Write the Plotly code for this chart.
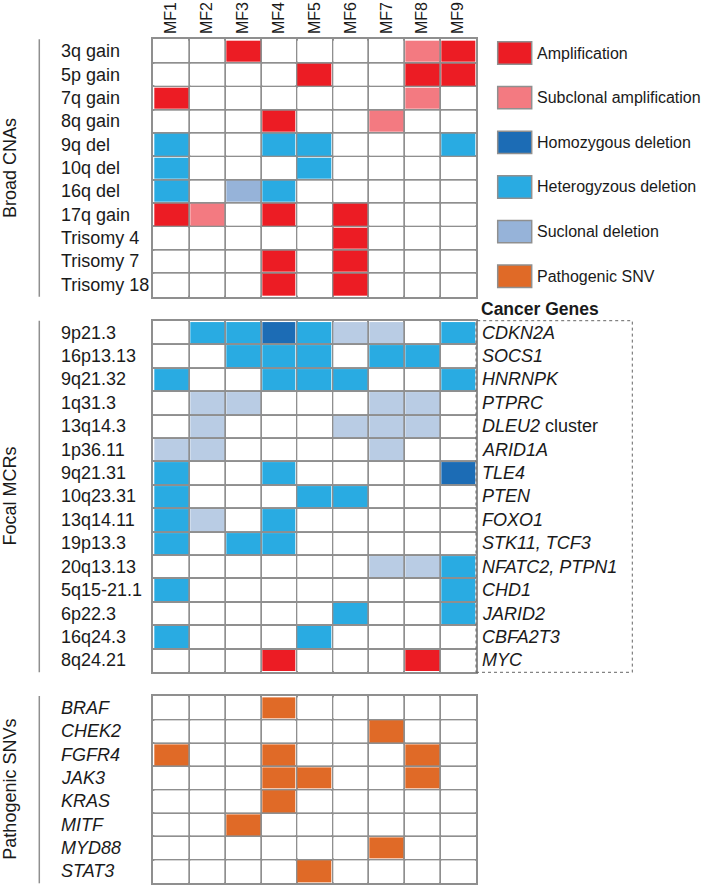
import plotly.graph_objects as go

# ---------------- data ----------------
samples = ["MF1", "MF2", "MF3", "MF4", "MF5", "MF6", "MF7", "MF8", "MF9"]

# call codes: "." none, "A" amplification, "a" subclonal amplification,
# "H" homozygous deletion, "D" heterozygous deletion, "d" subclonal deletion,
# "S" pathogenic SNV
broad_rows = ["3q gain", "5p gain", "7q gain", "8q gain", "9q del", "10q del",
              "16q del", "17q gain", "Trisomy 4", "Trisomy 7", "Trisomy 18"]
broad_calls = [
    "..A....aA",
    "....A..AA",
    "A......a.",
    "...A..a..",
    "D..DD...D",
    "D...D....",
    "D.dD.....",
    "Aa.A.A...",
    ".....A...",
    "...A.A...",
    "...A.A...",
]

focal_rows = ["9p21.3", "16p13.13", "9q21.32", "1q31.3", "13q14.3", "1p36.11",
              "9q21.31", "10q23.31", "13q14.11", "19p13.3", "20q13.13",
              "5q15-21.1", "6p22.3", "16q24.3", "8q24.21"]
focal_genes = ["<i>CDKN2A</i>", "<i>SOCS1</i>", "<i>HNRNPK</i>", "<i>PTPRC</i>",
               "<i>DLEU2</i> cluster", "<i>ARID1A</i>", "<i>TLE4</i>", "<i>PTEN</i>",
               "<i>FOXO1</i>", "<i>STK11, TCF3</i>", "<i>NFATC2, PTPN1</i>",
               "<i>CHD1</i>", "<i>JARID2</i>", "<i>CBFA2T3</i>", "<i>MYC</i>"]
focal_calls = [
    ".DDHDdd.D",
    "..DDD.DD.",
    "D..DDD..D",
    ".dd...dd.",
    ".d...ddd.",
    "dd....d..",
    "D..D....H",
    "D...DD...",
    "Dd.D.....",
    "D.DD.....",
    "......ddD",
    "D.......D",
    ".....D..D",
    "D...D....",
    "...A...A.",
]

snv_rows = ["BRAF", "CHEK2", "FGFR4", "JAK3", "KRAS", "MITF", "MYD88", "STAT3"]
snv_calls = [
    "...S.....",
    "......S..",
    "S..S...S.",
    "...SS..S.",
    "...S.....",
    "..S......",
    "......S..",
    "....S....",
]

legend_labels = ["Amplification", "Subclonal amplification", "Homozygous deletion",
                 "Heterogyzous deletion", "Suclonal deletion", "Pathogenic SNV"]

# ---------------- styles ----------------
W, H = 709, 885
FONT = "Arial, 'Liberation Sans', sans-serif"
TXT = "#1a1a1a"
GRID = "#8f8f8f"

codes = [".", "A", "a", "H", "D", "d", "S", "f"]   # "f": faint subclonal deletion (focal panel)
code_colors = ["#ffffff", "#ec1c24", "#f37a81", "#1c6cb5", "#29abe2",
               "#96b3d9", "#e06a27", "#b9cce4"]
legend_colors = ["#ec1c24", "#f37a81", "#1c6cb5", "#29abe2", "#96b3d9", "#e06a27"]

n = len(codes)
colorscale = []
for i, c in enumerate(code_colors):
    colorscale.append([i / n, c])
    colorscale.append([(i + 1) / n, c])


def to_z(calls, remap=None):
    remap = remap or {}
    return [[codes.index(remap.get(ch, ch)) for ch in row] for row in calls]


def ydom(top, bottom):
    return [1 - bottom / H, 1 - top / H]


GRID_LEFT, GRID_RIGHT = 153.3, 476.0
xdom = [GRID_LEFT / W, GRID_RIGHT / W]
broad_dom = ydom(39.3, 296.7)
focal_dom = ydom(320.7, 672.3)
snv_dom = ydom(696.0, 883.3)

fig = go.Figure()

panels = [
    (broad_rows, to_z(broad_calls), "x", "y"),
    (focal_rows, to_z(focal_calls, {"d": "f"}), "x2", "y2"),
    (snv_rows, to_z(snv_calls), "x3", "y3"),
]
for rows, z, xa, ya in panels:
    fig.add_trace(go.Heatmap(
        z=z, x=samples, y=rows, xaxis=xa, yaxis=ya,
        colorscale=colorscale, zmin=-0.5, zmax=n - 0.5, showscale=False,
        xgap=2, ygap=2, hoverinfo="skip"))

# legend swatches
fig.add_trace(go.Bar(
    x=[1] * len(legend_labels), y=legend_labels, orientation="h", width=0.5,
    marker=dict(color=legend_colors, line=dict(color=GRID, width=1.5)),
    xaxis="x4", yaxis="y4", hoverinfo="skip", showlegend=False))

grid_ax = dict(type="category", showgrid=True, gridcolor=GRID, gridwidth=2,
               tickson="boundaries", showline=True, linecolor=GRID, linewidth=2,
               mirror=True, ticks="", zeroline=False, fixedrange=True)

layout = dict(
    width=W, height=H, autosize=False,
    margin=dict(l=0, r=0, t=0, b=0),
    paper_bgcolor="white", plot_bgcolor="white",
    font=dict(family=FONT, color=TXT, size=18),
    showlegend=False,
    xaxis=dict(grid_ax, domain=xdom, anchor="y", side="top", tickangle=-90,
               tickfont=dict(size=16, color=TXT, family=FONT), showticklabels=True),
    yaxis=dict(grid_ax, domain=broad_dom, anchor="x", autorange="reversed",
               showticklabels=False),
    xaxis2=dict(grid_ax, domain=xdom, anchor="y2", showticklabels=False),
    yaxis2=dict(grid_ax, domain=focal_dom, anchor="x2", autorange="reversed",
                showticklabels=False),
    xaxis3=dict(grid_ax, domain=xdom, anchor="y3", showticklabels=False),
    yaxis3=dict(grid_ax, domain=snv_dom, anchor="x3", autorange="reversed",
                showticklabels=False),
    xaxis4=dict(domain=[496.0 / W, 533.4 / W], range=[-0.05, 1.05], visible=False,
                anchor="y4", fixedrange=True),
    yaxis4=dict(domain=ydom(30.7, 298.6), type="category", autorange="reversed",
                visible=False, anchor="x4", fixedrange=True),
)
fig.update_layout(**layout)

ann = []
LABEL_X = 58.5 / W
for rows, ya, italic in [(broad_rows, "y", False), (focal_rows, "y2", False),
                         (snv_rows, "y3", True)]:
    for r in rows:
        ann.append(dict(x=LABEL_X, xref="paper", y=r, yref=ya, xanchor="left",
                        yanchor="middle", showarrow=False,
                        text=f"<i>{r}</i>" if italic else r,
                        font=dict(size=18, color=TXT, family=FONT)))

for r, g in zip(focal_rows, focal_genes):
    ann.append(dict(x=480.0 / W, xref="paper", y=r, yref="y2", xanchor="left",
                    yanchor="middle", showarrow=False, text=g,
                    font=dict(size=18, color=TXT, family=FONT)))

for lab in legend_labels:
    ann.append(dict(x=535.0 / W, xref="paper", y=lab, yref="y4", xanchor="left",
                    yanchor="middle", showarrow=False, text=lab,
                    font=dict(size=16, color=TXT, family=FONT)))

ann.append(dict(x=479.0 / W, xref="paper", y=1, yref="y2 domain", xanchor="left",
                yanchor="bottom", showarrow=False, text="<b>Cancer Genes</b>",
                font=dict(size=17.5, color=TXT, family=FONT)))

shapes = []
for title, ya in [("Broad CNAs", "y"), ("Focal MCRs", "y2"), ("Pathogenic SNVs", "y3")]:
    ann.append(dict(x=10.0 / W, xref="paper", y=0.5, yref=f"{ya} domain",
                    xanchor="center", yanchor="middle", textangle=-90,
                    showarrow=False, text=title,
                    font=dict(size=18, color=TXT, family=FONT)))
    shapes.append(dict(type="line", xref="paper", x0=39.3 / W, x1=39.3 / W,
                       yref=f"{ya} domain", y0=0, y1=1,
                       line=dict(color=GRID, width=1.5)))

shapes.append(dict(type="rect", xref="x2 domain", x0=1,
                   x1=(632.3 - GRID_LEFT) / (GRID_RIGHT - GRID_LEFT),
                   yref="y2 domain", y0=0, y1=1,
                   line=dict(color="#666666", width=1, dash="dot")))

fig.update_layout(annotations=ann, shapes=shapes)

fig.write_html(
    "out.html",
    config={"displayModeBar": False},
    post_script="document.body.style.margin='0';document.body.style.padding='0';"
                "document.documentElement.style.overflow='hidden';",
)
